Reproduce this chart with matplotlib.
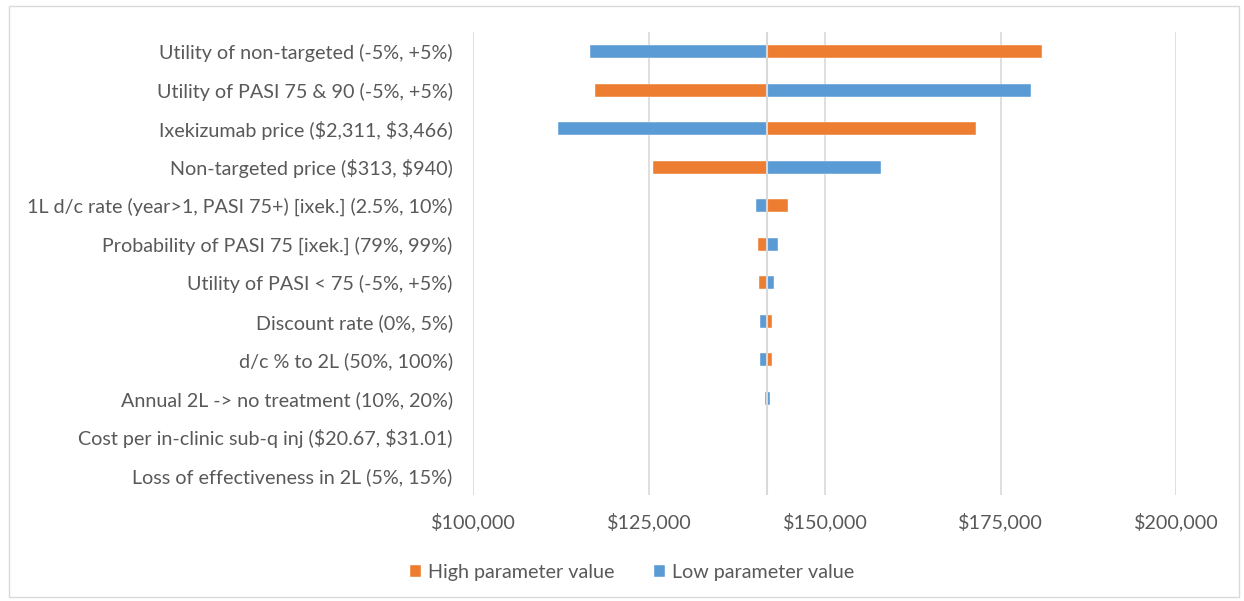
import matplotlib.pyplot as plt
import matplotlib.ticker as mticker
from matplotlib.patches import Rectangle

# tornado chart data
params = ["Utility of non-targeted (-5%, +5%)",
          "Utility of PASI 75 & 90 (-5%, +5%)",
          "Ixekizumab price ($2,311, $3,466)",
          "Non-targeted price ($313, $940)",
          "1L d/c rate (year>1, PASI 75+) [ixek.] (2.5%, 10%)",
          "Probability of PASI 75 [ixek.] (79%, 99%)",
          "Utility of PASI < 75 (-5%, +5%)",
          "Discount rate (0%, 5%)",
          "d/c % to 2L (50%, 100%)",
          "Annual 2L -> no treatment (10%, 20%)",
          "Cost per in-clinic sub-q inj ($20.67, $31.01)",
          "Loss of effectiveness in 2L (5%, 15%)"]
base = 141800
high_vals = [180870, 117240, 171480, 125530, 144780, 140470, 140610, 142460, 142460, 141400, 141800, 141800]
low_vals = [116570, 179260, 111980, 157970, 140140, 143270, 142790, 140800, 140800, 142200, 141800, 141800]
xticks = [100000, 125000, 150000, 175000, 200000]

orange = "#ED7D31"
blue = "#5B9BD5"
txt = "#595959"
grid = "#D9D9D9"

plt.rcParams['font.family'] = ['Lato', 'DejaVu Sans']
plt.rcParams['text.parse_math'] = False

fig = plt.figure(figsize=(12.44, 6.01), dpi=100)
fig.patches.append(Rectangle((0.007, 0.006), 0.989, 0.984, transform=fig.transFigure,
                             fill=False, edgecolor=grid, linewidth=1))
ax = fig.add_axes([0.3806, 0.1772, 0.5651, 0.7689])

y = list(range(len(params)))
hw = [h - base for h in high_vals]
lw = [l - base for l in low_vals]
ax.barh(y, hw, left=base, height=0.34, color=orange, edgecolor="white", linewidth=0.3,
        label="High parameter value", zorder=2)
ax.barh(y, lw, left=base, height=0.34, color=blue, edgecolor="white", linewidth=0.3,
        label="Low parameter value", zorder=2)
ax.axvline(base, color=grid, linewidth=1.5, zorder=3)

ax.set_xlim(100000, 200000)
ax.set_ylim(len(params) - 0.5, -0.5)
ax.set_xticks(xticks)
ax.xaxis.set_major_formatter(mticker.FuncFormatter(lambda v, p: "${:,.0f}".format(v)))
ax.set_yticks(y)
ax.set_yticklabels(params)
ax.grid(axis="x", color=grid, linewidth=1.2, zorder=0)
ax.set_axisbelow(True)
for s in ax.spines.values():
    s.set_visible(False)
ax.tick_params(axis="both", length=0, colors=txt, labelsize=14.2)
ax.tick_params(axis="y", pad=15)
ax.tick_params(axis="x", pad=13)

leg = fig.legend(loc="center", bbox_to_anchor=(0.508, 0.048), ncol=2, frameon=False,
                 fontsize=14.2, handlelength=0.55, handleheight=0.55, columnspacing=2.0,
                 handletextpad=0.35)
for t in leg.get_texts():
    t.set_color(txt)

fig.savefig("out.png", dpi=100)
